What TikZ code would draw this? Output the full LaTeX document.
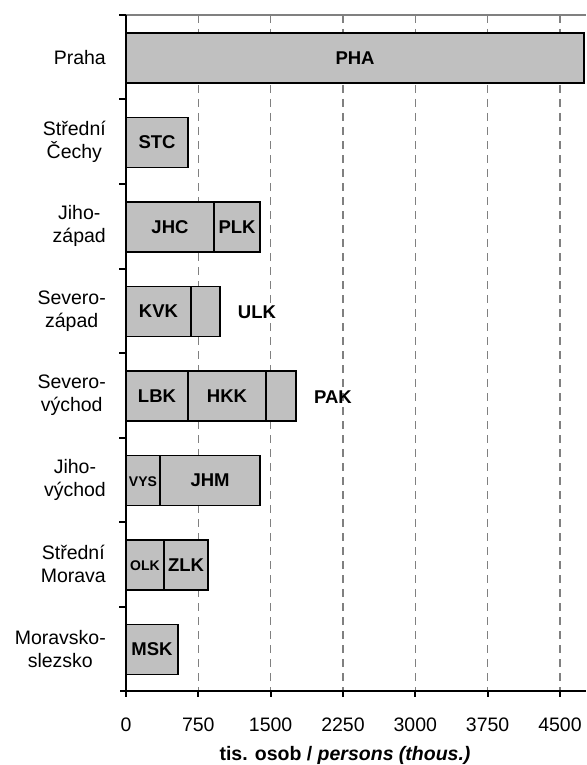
\documentclass[tikz,border=0pt]{standalone}
\usepackage{fontspec}
\setmainfont{Liberation Sans}
\definecolor{barfill}{RGB}{192,192,192}
\definecolor{gridgray}{RGB}{128,128,128}
\newcommand{\xv}[1]{(126+#1*0.09644)}
\tikzset{
  bar/.style={draw=black, fill=barfill, line width=1.5pt},
  gridline/.style={draw=gridgray, line width=1.2pt, dash pattern=on 8pt off 6pt},
  axisline/.style={draw=black, line width=2pt},
  barlabel/.style={font=\fontsize{18.5}{20}\selectfont\bfseries, inner sep=0pt},
  smalllabel/.style={font=\fontsize{14}{16}\selectfont\bfseries, inner sep=0pt},
  catlabel/.style={font=\fontsize{19.5}{23}\selectfont, align=center, anchor=east, inner sep=0pt},
  ticklabel/.style={font=\fontsize{19.5}{22}\selectfont, inner sep=0pt}
}

\begin{document}
\begin{tikzpicture}[x=1pt,y=-1pt]
	%%%%% START %%%%%
	\useasboundingbox (0,0) rectangle (586,765);
	
	% grid
	\draw[gridgray, line width=1.2pt] (126,15) -- (586,15);
	\foreach \v in {750,1500,...,4500}
		\draw[gridline] ({\xv{\v}},15) -- ({\xv{\v}},691);
	
	% bars
	\foreach \row/\from/\to in {0/0/4750, 1/0/643, 2/0/912, 2/912/1390, 3/0/674, 3/674/975,
		4/0/643, 4/643/1452, 4/1452/1763, 5/0/353, 5/353/1390, 6/0/394, 6/394/850, 7/0/539}
		\draw[bar] ({\xv{\from}},{33+84.5*\row}) rectangle ({\xv{\to}},{83+84.5*\row});
	
	\foreach \row/\from/\to/\name in {0/0/4750/PHA, 1/0/643/STC, 2/0/912/JHC, 2/912/1390/PLK,
		3/0/674/KVK, 4/0/643/LBK, 4/643/1452/HKK, 5/353/1390/JHM, 6/394/850/ZLK, 7/0/539/MSK}
		\node[barlabel] (\name) at ({(\xv{\from}+\xv{\to})/2},{58+84.5*\row}) {\name};
	
	\node[smalllabel] (VYS) at (143,482) {VYS};
	\node[smalllabel] (OLK) at (145,566) {OLK};
	\node[barlabel] (ULK) at (257,312) {ULK};
	\node[barlabel] (PAK) at (333,397) {PAK};
	
	% axes
	\draw[axisline] (126,15) -- (126,691);
	\draw[axisline] (120,691) -- (586,691);
	\foreach \k in {0,...,7}
		\draw[axisline] (119,{15+84.5*\k}) -- (126,{15+84.5*\k});
	\foreach \v in {0,750,...,4500}
		\draw[axisline] ({\xv{\v}},691) -- ({\xv{\v}},697);
	
	\foreach \v in {0,750,...,4500}
		\node[ticklabel] (tick\v) at ({\xv{\v}},725) {\v};
	\node[barlabel, font=\fontsize{19.5}{22}\selectfont\bfseries] (xtitle) at (345,755) {tis. osob / \itshape persons (thous.)};
	
	\foreach \k/\txt in {0/Praha, 1/{Střední\\Čechy}, 2/{Jiho-\\západ}, 3/{Severo-\\západ},
		4/{Severo-\\východ}, 5/{Jiho-\\východ}, 6/{Střední\\Morava}, 7/{Moravsko-\\slezsko}}
		\node[catlabel] (cat\k) at (106,{57.25+84.5*\k}) {\txt};
	
	%%%%% END %%%%%
\end{tikzpicture}
\end{document}
